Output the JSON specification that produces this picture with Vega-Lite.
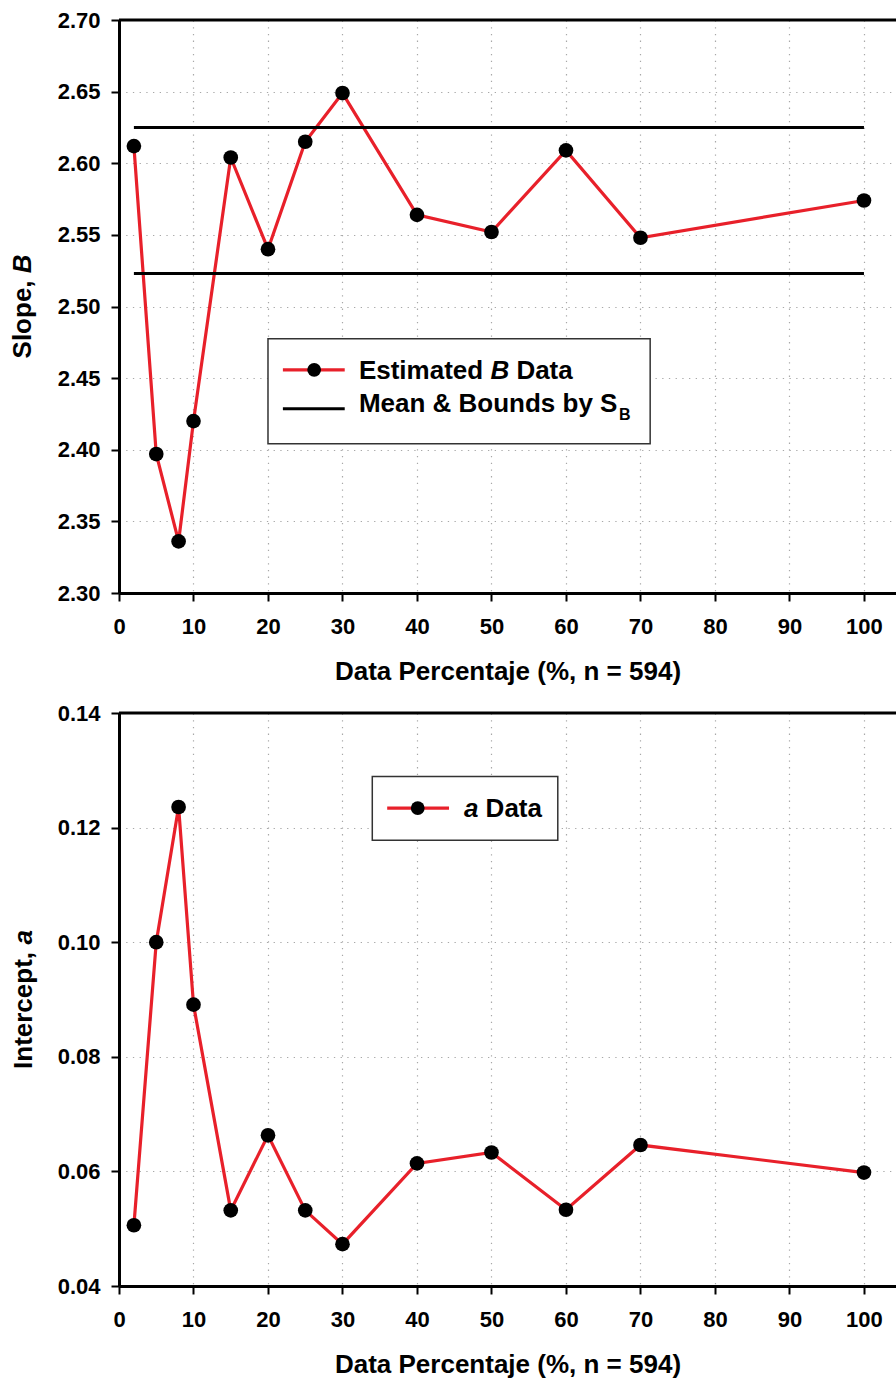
{
  "$schema": "https://vega.github.io/schema/vega-lite/v6.json",
  "background": "white",
  "padding": {"left": 10, "top": 9, "right": 0, "bottom": 5},
  "spacing": 18,
  "datasets": {
    "slope": [
      {"pct": 2, "B": 2.612},
      {"pct": 5, "B": 2.397},
      {"pct": 8, "B": 2.336},
      {"pct": 10, "B": 2.420},
      {"pct": 15, "B": 2.604},
      {"pct": 20, "B": 2.540},
      {"pct": 25, "B": 2.615},
      {"pct": 30, "B": 2.649},
      {"pct": 40, "B": 2.564},
      {"pct": 50, "B": 2.552},
      {"pct": 60, "B": 2.609},
      {"pct": 70, "B": 2.548},
      {"pct": 100, "B": 2.574}
    ],
    "bounds": [
      {"from": 2, "to": 100, "B": 2.625},
      {"from": 2, "to": 100, "B": 2.523}
    ],
    "intercept": [
      {"pct": 2, "a": 0.0506},
      {"pct": 5, "a": 0.1000},
      {"pct": 8, "a": 0.1236},
      {"pct": 10, "a": 0.0891},
      {"pct": 15, "a": 0.0532},
      {"pct": 20, "a": 0.0663},
      {"pct": 25, "a": 0.0532},
      {"pct": 30, "a": 0.0473},
      {"pct": 40, "a": 0.0614},
      {"pct": 50, "a": 0.0633},
      {"pct": 60, "a": 0.0533},
      {"pct": 70, "a": 0.0646},
      {"pct": 100, "a": 0.0598}
    ]
  },
  "config": {
    "font": "Liberation Sans",
    "view": {"stroke": null},
    "axis": {
      "domainColor": "black",
      "domainWidth": 3,
      "tickColor": "black",
      "tickWidth": 2,
      "tickSize": 8,
      "labelFont": "Liberation Sans",
      "labelFontSize": 22,
      "labelFontWeight": "bold",
      "labelColor": "black",
      "labelFlush": false,
      "labelOverlap": false,
      "labelBound": false,
      "grid": true,
      "gridColor": "#a8a8a8",
      "gridDash": [1.3, 5.4],
      "gridWidth": 1.2,
      "titleFont": "Liberation Sans",
      "titleFontSize": 26,
      "titleFontWeight": "bold",
      "titleColor": "black"
    },
    "axisX": {"labelPadding": 15, "titlePadding": 21},
    "axisY": {"labelPadding": 11}
  },
  "vconcat": [
    {
      "width": 777,
      "height": 573,
      "layer": [
        {
          "data": {"name": "slope"},
          "mark": {"type": "line", "color": "#e8202a", "strokeWidth": 3.2},
          "encoding": {
            "x": {
              "field": "pct", "type": "quantitative",
              "scale": {"domain": [0, 104.3], "nice": false, "zero": false},
              "axis": {"values": [0, 10, 20, 30, 40, 50, 60, 70, 80, 90, 100], "title": "Data Percentaje (%, n = 594)"}
            },
            "y": {
              "field": "B", "type": "quantitative",
              "scale": {"domain": [2.3, 2.7], "nice": false, "zero": false},
              "axis": {"values": [2.3, 2.35, 2.4, 2.45, 2.5, 2.55, 2.6, 2.65, 2.7], "format": ".2f", "title": null}
            }
          }
        },
        {
          "data": {"name": "bounds"},
          "mark": {"type": "rule", "color": "black", "strokeWidth": 3},
          "encoding": {
            "x": {"field": "from", "type": "quantitative"},
            "x2": {"field": "to"},
            "y": {"field": "B", "type": "quantitative"}
          }
        },
        {
          "data": {"name": "slope"},
          "mark": {"type": "point", "shape": "circle", "filled": true, "color": "black", "opacity": 1, "size": 215},
          "encoding": {
            "x": {"field": "pct", "type": "quantitative"},
            "y": {"field": "B", "type": "quantitative"}
          }
        },
        {
          "data": {"values": [{}]},
          "mark": {"type": "rule", "color": "black", "strokeWidth": 3},
          "encoding": {"y": {"datum": 2.7, "type": "quantitative"}}
        },
        {
          "data": {"values": [{}]},
          "mark": {"type": "rect", "fill": "white", "stroke": "#333333", "strokeWidth": 1.5},
          "encoding": {
            "x": {"datum": 20.0, "type": "quantitative"},
            "x2": {"datum": 71.3},
            "y": {"datum": 2.4775, "type": "quantitative"},
            "y2": {"datum": 2.4042}
          }
        },
        {
          "data": {"values": [{}]},
          "mark": {"type": "rule", "color": "#e8202a", "strokeWidth": 3.2},
          "encoding": {
            "x": {"datum": 22.0, "type": "quantitative"},
            "x2": {"datum": 30.3},
            "y": {"datum": 2.4558, "type": "quantitative"}
          }
        },
        {
          "data": {"values": [{}]},
          "mark": {"type": "point", "shape": "circle", "filled": true, "color": "black", "opacity": 1, "size": 190},
          "encoding": {
            "x": {"datum": 26.2, "type": "quantitative"},
            "y": {"datum": 2.4558, "type": "quantitative"}
          }
        },
        {
          "data": {"values": [{}]},
          "mark": {"type": "rule", "color": "black", "strokeWidth": 3},
          "encoding": {
            "x": {"datum": 22.0, "type": "quantitative"},
            "x2": {"datum": 30.3},
            "y": {"datum": 2.4286, "type": "quantitative"}
          }
        },
        {
          "data": {"values": [{}]},
          "mark": {"type": "text", "text": "Estimated", "align": "left", "baseline": "alphabetic", "fontSize": 26, "fontWeight": "bold", "color": "black"},
          "encoding": {
            "x": {"datum": 32.2, "type": "quantitative"},
            "y": {"datum": 2.4495, "type": "quantitative"}
          }
        },
        {
          "data": {"values": [{}]},
          "mark": {"type": "text", "text": "B", "align": "left", "baseline": "alphabetic", "dx": 131.5, "fontSize": 26, "fontWeight": "bold", "fontStyle": "italic", "color": "black"},
          "encoding": {
            "x": {"datum": 32.2, "type": "quantitative"},
            "y": {"datum": 2.4495, "type": "quantitative"}
          }
        },
        {
          "data": {"values": [{}]},
          "mark": {"type": "text", "text": "Data", "align": "left", "baseline": "alphabetic", "dx": 157.5, "fontSize": 26, "fontWeight": "bold", "color": "black"},
          "encoding": {
            "x": {"datum": 32.2, "type": "quantitative"},
            "y": {"datum": 2.4495, "type": "quantitative"}
          }
        },
        {
          "data": {"values": [{}]},
          "mark": {"type": "text", "text": "Mean & Bounds by S", "align": "left", "baseline": "alphabetic", "fontSize": 26, "fontWeight": "bold", "color": "black"},
          "encoding": {
            "x": {"datum": 32.2, "type": "quantitative"},
            "y": {"datum": 2.4262, "type": "quantitative"}
          }
        },
        {
          "data": {"values": [{}]},
          "mark": {"type": "text", "text": "B", "align": "left", "baseline": "alphabetic", "dx": 260, "dy": 8, "fontSize": 16, "fontWeight": "bold", "color": "black"},
          "encoding": {
            "x": {"datum": 32.2, "type": "quantitative"},
            "y": {"datum": 2.4262, "type": "quantitative"}
          }
        },
        {
          "data": {"values": [{}]},
          "mark": {"type": "text", "text": "Slope,", "angle": 270, "align": "right", "baseline": "alphabetic", "fontSize": 26, "fontWeight": "bold", "color": "black"},
          "encoding": {
            "x": {"datum": -11.8, "type": "quantitative"},
            "y": {"datum": 2.5182, "type": "quantitative"}
          }
        },
        {
          "data": {"values": [{}]},
          "mark": {"type": "text", "text": "B", "angle": 270, "align": "left", "baseline": "alphabetic", "fontSize": 26, "fontWeight": "bold", "fontStyle": "italic", "color": "black"},
          "encoding": {
            "x": {"datum": -11.8, "type": "quantitative"},
            "y": {"datum": 2.5232, "type": "quantitative"}
          }
        }
      ]
    },
    {
      "width": 777,
      "height": 573,
      "layer": [
        {
          "data": {"name": "intercept"},
          "mark": {"type": "line", "color": "#e8202a", "strokeWidth": 3.2},
          "encoding": {
            "x": {
              "field": "pct", "type": "quantitative",
              "scale": {"domain": [0, 104.3], "nice": false, "zero": false},
              "axis": {"values": [0, 10, 20, 30, 40, 50, 60, 70, 80, 90, 100], "title": "Data Percentaje (%, n = 594)"}
            },
            "y": {
              "field": "a", "type": "quantitative",
              "scale": {"domain": [0.04, 0.14], "nice": false, "zero": false},
              "axis": {"values": [0.04, 0.06, 0.08, 0.1, 0.12, 0.14], "format": ".2f", "title": null}
            }
          }
        },
        {
          "data": {"name": "intercept"},
          "mark": {"type": "point", "shape": "circle", "filled": true, "color": "black", "opacity": 1, "size": 215},
          "encoding": {
            "x": {"field": "pct", "type": "quantitative"},
            "y": {"field": "a", "type": "quantitative"}
          }
        },
        {
          "data": {"values": [{}]},
          "mark": {"type": "rule", "color": "black", "strokeWidth": 3},
          "encoding": {"y": {"datum": 0.14, "type": "quantitative"}}
        },
        {
          "data": {"values": [{}]},
          "mark": {"type": "rect", "fill": "white", "stroke": "#333333", "strokeWidth": 1.5},
          "encoding": {
            "x": {"datum": 34.0, "type": "quantitative"},
            "x2": {"datum": 58.9},
            "y": {"datum": 0.1289, "type": "quantitative"},
            "y2": {"datum": 0.1178}
          }
        },
        {
          "data": {"values": [{}]},
          "mark": {"type": "rule", "color": "#e8202a", "strokeWidth": 3.2},
          "encoding": {
            "x": {"datum": 36.0, "type": "quantitative"},
            "x2": {"datum": 44.3},
            "y": {"datum": 0.1234, "type": "quantitative"}
          }
        },
        {
          "data": {"values": [{}]},
          "mark": {"type": "point", "shape": "circle", "filled": true, "color": "black", "opacity": 1, "size": 190},
          "encoding": {
            "x": {"datum": 40.1, "type": "quantitative"},
            "y": {"datum": 0.1234, "type": "quantitative"}
          }
        },
        {
          "data": {"values": [{}]},
          "mark": {"type": "text", "text": "a", "align": "left", "baseline": "alphabetic", "fontSize": 26, "fontWeight": "bold", "fontStyle": "italic", "color": "black"},
          "encoding": {
            "x": {"datum": 46.3, "type": "quantitative"},
            "y": {"datum": 0.1218, "type": "quantitative"}
          }
        },
        {
          "data": {"values": [{}]},
          "mark": {"type": "text", "text": "Data", "align": "left", "baseline": "alphabetic", "dx": 21.7, "fontSize": 26, "fontWeight": "bold", "color": "black"},
          "encoding": {
            "x": {"datum": 46.3, "type": "quantitative"},
            "y": {"datum": 0.1218, "type": "quantitative"}
          }
        },
        {
          "data": {"values": [{}]},
          "mark": {"type": "text", "text": "Intercept,", "angle": 270, "align": "right", "baseline": "alphabetic", "fontSize": 26, "fontWeight": "bold", "color": "black"},
          "encoding": {
            "x": {"datum": -11.65, "type": "quantitative"},
            "y": {"datum": 0.0983, "type": "quantitative"}
          }
        },
        {
          "data": {"values": [{}]},
          "mark": {"type": "text", "text": "a", "angle": 270, "align": "left", "baseline": "alphabetic", "fontSize": 26, "fontWeight": "bold", "fontStyle": "italic", "color": "black"},
          "encoding": {
            "x": {"datum": -11.65, "type": "quantitative"},
            "y": {"datum": 0.0996, "type": "quantitative"}
          }
        }
      ]
    }
  ]
}
